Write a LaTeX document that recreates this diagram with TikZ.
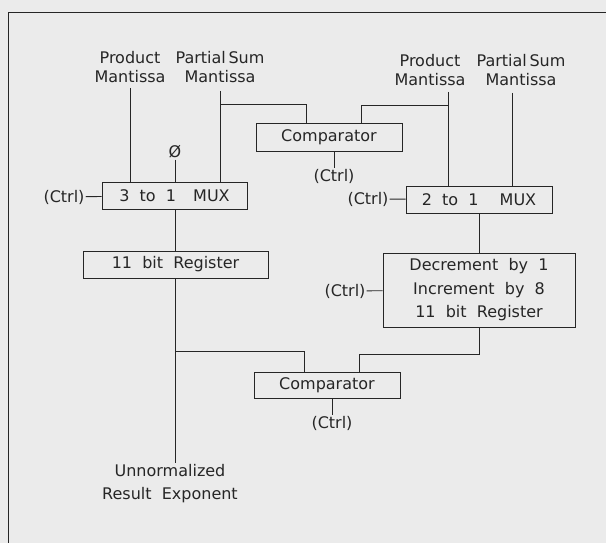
\documentclass[tikz,border=0pt]{standalone}
\usepackage{fontspec}
\setmainfont{DejaVu Sans}[WordSpace=2]
\begin{document}
\begin{tikzpicture}[
                x=1pt, y=-1pt,
                every node/.style={font=\fontsize{16}{19}\selectfont, inner sep=1pt, text=black!85},
                blk/.style={draw=black!85, line width=0.9pt, minimum height=27pt, inner sep=0pt},
                lbl/.style={align=center},
                wire/.style={draw=black!85, line width=0.9pt}
            ]

            \fill[black!8] (0,0) rectangle (606,543);
            \useasboundingbox (0,0) rectangle (606,543);
            \draw[wire] (8.5,543) -- (8.5,12) -- (606,12);

            \node[lbl] (prodL) at (130,67.5) {Product\\Mantissa};
            \node[lbl] (sumL) at (220,67.5) {Partial\,Sum\\Mantissa};
            \node[lbl] (prodR) at (430,70) {Product\\Mantissa};
            \node[lbl] (sumR) at (521,70) {Partial\,Sum\\Mantissa};
            \node (zero) at (175,152) {Ø};

            \node[blk, minimum width=146pt, minimum height=28pt] (comp1) at (329,137) {Comparator};
            \node (ctrl4) at (334,176) {(Ctrl)};
            \node[blk, minimum width=145pt] (mux1) at (174.5,195.5) {3 to 1\hspace{7pt} MUX};
            \node (ctrl1) at (64,197) {(Ctrl)};
            \node[blk, minimum width=146pt] (mux2) at (479,199.5) {2 to 1\hspace{11pt} MUX};
            \node (ctrl2) at (368,199) {(Ctrl)};
            \node[blk, minimum width=185pt] (reg) at (175.5,264.5) {11 bit Register};
            \node[blk, lbl, minimum width=192pt, minimum height=74pt,
                  font=\fontsize{16}{23.5}\selectfont] (dec) at (479,290)
                {Decrement by 1\\Increment by 8\\11 bit Register};
            \node (ctrl3) at (345,291) {(Ctrl)};
            \node[blk, minimum width=146pt, minimum height=26pt] (comp2) at (327,385) {Comparator};
            \node (ctrl5) at (332,423) {(Ctrl)};
            \node[lbl, font=\fontsize{16}{23}\selectfont] (out) at (170,483.5) {Unnormalized\\Result Exponent};

            \coordinate (pl) at (130,88);
            \coordinate (sl) at (220,91);
            \coordinate (pr) at (448,92);
            \coordinate (sr) at (512,93);
            \coordinate (j1) at (220,104);
            \coordinate (j2) at (448,105);
            \coordinate (j3) at (175,351);

            \draw[wire] (pl) -- (pl |- mux1.north);
            \draw[wire] (sl) -- (sl |- mux1.north);
            \draw[wire] (zero) -- (zero |- mux1.north);
            \draw[wire] (j1) -| ([xshift=51pt]comp1.north west);
            \draw[wire] (pr) -- (pr |- mux2.north);
            \draw[wire] (sr) -- (sr |- mux2.north);
            \draw[wire] (j2) -| ([xshift=-41pt]comp1.north east);
            \draw[wire] (comp1.south -| ctrl4) -- (ctrl4);
            \draw[wire] (ctrl1) -- (mux1);
            \draw[wire] (ctrl2) -- (mux2);
            \draw[wire] (mux1.south -| reg) -- (reg);
            \draw[wire] (mux2) -- (dec);
            \draw[wire] (ctrl3) -- (dec);
            \draw[wire] (dec.south) -- ++(0,27) -| ([xshift=-41pt]comp2.north east);
            \draw[wire] (reg.south -| j3) -- (j3 |- out.north);
            \draw[wire] (j3) -| ([xshift=51pt]comp2.north west);
            \draw[wire] (comp2.south -| ctrl5) -- (ctrl5);

        \end{tikzpicture}
\end{document}
